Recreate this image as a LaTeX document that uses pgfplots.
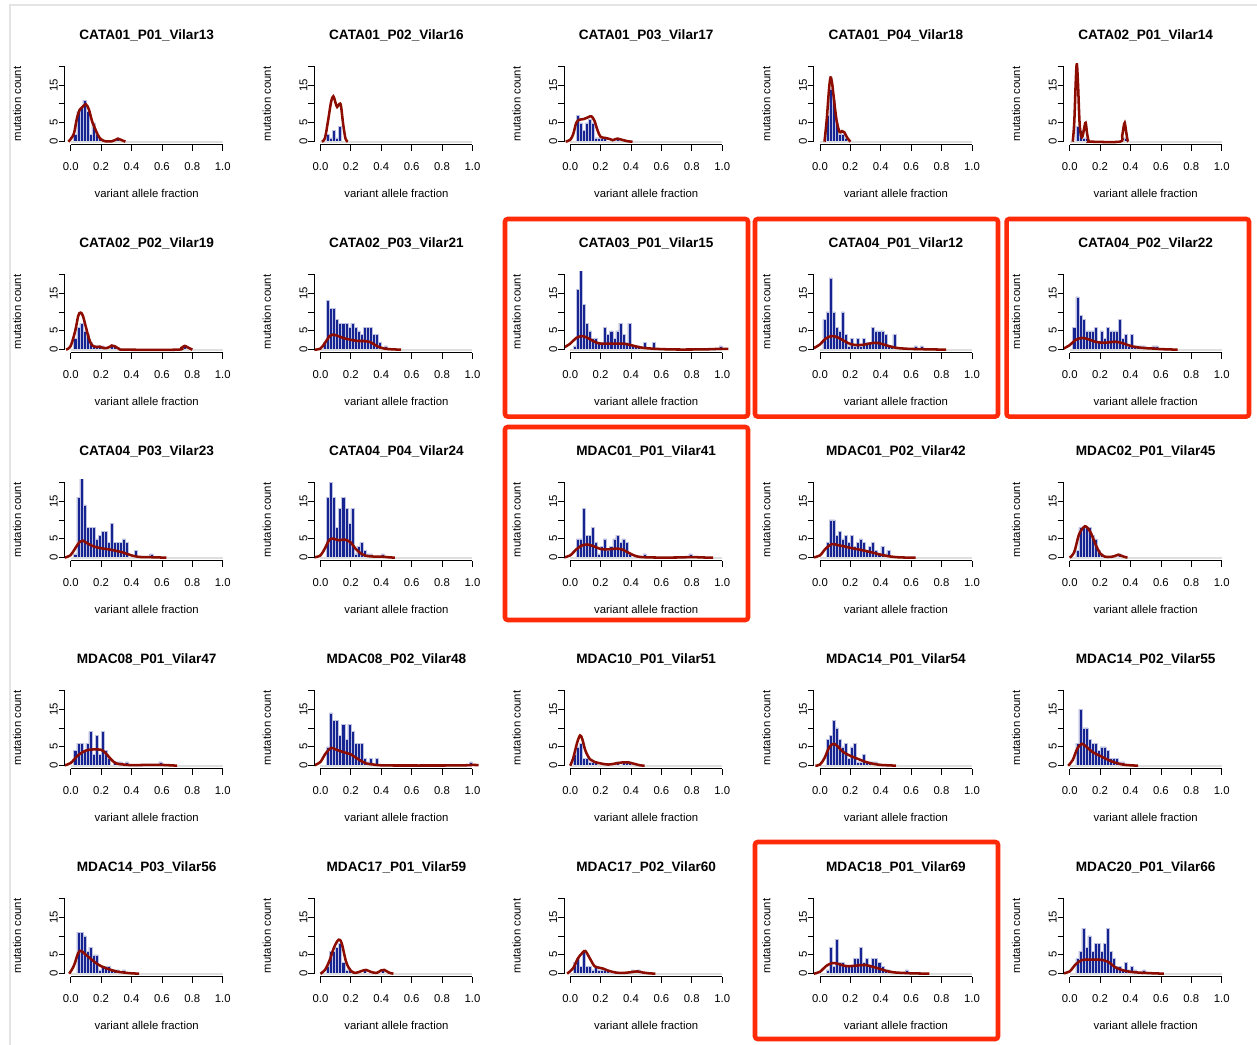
\documentclass[border=0pt]{standalone}
\usepackage{fontspec}
\setmainfont{Liberation Sans}
\usepackage{pgfplots}
\pgfplotsset{compat=1.18}

\definecolor{barblue}{RGB}{22,36,145}
\definecolor{baredge}{RGB}{190,194,224}
\definecolor{kdered}{RGB}{140,12,0}
\definecolor{hilite}{RGB}{255,42,8}
\definecolor{framegray}{RGB}{228,228,228}

\pgfplotsset{
  vaf/.style={
    scale only axis, width=123.15pt, height=61.2pt,
    xmin=-0.04, xmax=1.04, ymin=-0.8, ymax=20.8,
    axis x line*=bottom, axis y line*=left,
    axis line style={draw=none},
    clip mode=individual,
    tick align=outside, major tick length=4.5pt,
    tick style={black, line width=0.6pt},
    xtick={0,0.2,0.4,0.6,0.8,1}, xticklabels={0.0,0.2,0.4,0.6,0.8,1.0},
    ytick={0,5,10,15,20}, yticklabels={0,5,,15,},
    tick label style={font=\fontsize{8.5}{10}\selectfont},
    yticklabel style={rotate=90, anchor=south, inner sep=0.5pt},
    xticklabel style={anchor=north, inner sep=1pt, yshift=-7.5pt},
    xlabel={variant allele fraction}, ylabel={mutation count},
    label style={font=\fontsize{8.5}{10}\selectfont},
    xlabel style={at={(axis description cs:0.5,-0.592)}, anchor=center},
    ylabel style={at={(axis description cs:-0.29,0.5)}, anchor=center},
  },
  bars/.style={ybar, bar width=0.02, fill=barblue, draw=baredge, line width=0.35pt},
  vafcurve/.style={color=kdered, line width=1.9pt, smooth, tension=0.55, no marks},
}

% #1 column, #2 row, #3 title, #4 histogram counts, #5 density curve
\newcommand{\panel}[5]{%
  \pgfmathsetmacro{\px}{(64.6+249.75*#1)*0.75}%
  \pgfmathsetmacro{\py}{-(144.7+208*#2)*0.75}%
  \begin{axis}[vaf, at={(\px pt,\py pt)}, anchor=south west]
    \addplot[bars] coordinates {#4};
    \addplot[gray!25, line width=1.5pt, no marks] coordinates {(0,0) (1,0)};
    \addplot[vafcurve] coordinates {#5};
    \draw[line width=0.6pt] (axis cs:0,-0.8) -- (axis cs:1,-0.8);
    \draw[line width=0.6pt] (axis cs:-0.04,0) -- (axis cs:-0.04,20);
    \node[font=\bfseries\fontsize{10.2}{12}\selectfont, anchor=center]
      at (axis description cs:0.5,1.344) {#3};
  \end{axis}}

\begin{document}
\begin{tikzpicture}
\useasboundingbox (0,0) rectangle (942.75pt,-783.75pt);
\fill[white] (0,0) rectangle (942.75pt,-783.75pt);
\draw[framegray, line width=1.8pt] (7.5pt,-3.75pt) rectangle (960pt,-800pt);

% row 1
\panel{0}{0}{CATA01\_P01\_Vilar13}
  {(0.03,2) (0.05,8) (0.07,9) (0.09,11) (0.11,8) (0.13,2) (0.15,5) (0.17,2) (0.19,1) (0.31,1)}
  {(-0.015,0) (0.02,2) (0.04,6) (0.06,8.5) (0.08,9.3) (0.1,9.9) (0.12,8.5) (0.14,5.5) (0.16,3.5) (0.18,1.7) (0.2,0.6) (0.23,0.1) (0.27,0.1) (0.29,0.4) (0.31,0.8) (0.33,0.5) (0.36,0)}
\panel{1}{0}{CATA01\_P02\_Vilar16}
  {(0.05,2) (0.07,1) (0.09,3) (0.11,1) (0.13,4)}
  {(0.01,0) (0.03,1) (0.05,5.5) (0.07,10.5) (0.085,12) (0.1,10.2) (0.11,9.2) (0.125,10) (0.135,9.5) (0.15,4.5) (0.165,0.8) (0.18,0)}
\panel{2}{0}{CATA01\_P03\_Vilar17}
  {(0.05,7) (0.07,5) (0.09,3) (0.11,5) (0.13,6) (0.15,5) (0.17,1) (0.19,1) (0.21,1) (0.23,1) (0.31,1)}
  {(-0.03,0) (0.0,0.5) (0.02,2) (0.04,5) (0.06,5.8) (0.09,6) (0.12,6.5) (0.14,6.7) (0.16,5.5) (0.18,3) (0.2,1.3) (0.23,1) (0.26,0.7) (0.28,0.4) (0.31,0.8) (0.34,0.5) (0.38,0.1) (0.41,0)}
\panel{3}{0}{CATA01\_P04\_Vilar18}
  {(0.05,7) (0.07,14) (0.09,11) (0.11,5) (0.13,2) (0.15,2) (0.17,1)}
  {(0.03,0) (0.045,6) (0.06,14) (0.07,17) (0.08,15.5) (0.09,12) (0.11,5.5) (0.13,2.5) (0.145,2.8) (0.16,2.5) (0.18,1) (0.2,0)}
\panel{4}{0}{CATA02\_P01\_Vilar14}
  {(0.05,4) (0.07,3) (0.09,1) (0.11,1) (0.37,1)}
  {(0.02,0) (0.03,5) (0.04,16) (0.047,20.6) (0.055,15) (0.065,5) (0.075,1.5) (0.085,1.5) (0.095,3.5) (0.105,5) (0.115,2) (0.125,0.2) (0.14,0) (0.33,0) (0.345,1.5) (0.355,4) (0.362,5) (0.37,3) (0.38,0.5) (0.385,0)}

% row 2
\panel{0}{1}{CATA02\_P02\_Vilar19}
  {(0.03,3) (0.05,6) (0.07,7) (0.09,5) (0.11,4) (0.13,2) (0.15,1) (0.17,1) (0.19,1) (0.21,1) (0.27,1) (0.29,1) (0.75,1)}
  {(-0.03,0) (0.0,1) (0.03,5) (0.05,9) (0.065,9.8) (0.08,9) (0.1,6) (0.12,3) (0.14,1.2) (0.17,0.7) (0.19,0.8) (0.22,0.4) (0.25,0.6) (0.27,1.1) (0.29,0.9) (0.32,0.2) (0.36,0) (0.7,0) (0.73,0.5) (0.75,1) (0.77,0.6) (0.8,0)}
\panel{1}{1}{CATA02\_P03\_Vilar21}
  {(0.03,2) (0.05,13) (0.07,11) (0.09,11) (0.11,8) (0.13,7) (0.15,7) (0.17,7) (0.19,6) (0.21,7) (0.23,6) (0.25,5) (0.27,4) (0.29,6) (0.31,6) (0.33,6) (0.35,4) (0.37,4) (0.39,2) (0.43,1)}
  {(-0.04,0) (0.0,0.3) (0.03,1.8) (0.06,3.6) (0.08,4) (0.11,3.7) (0.15,3.1) (0.2,2.6) (0.25,2.3) (0.29,2.3) (0.32,2.1) (0.35,1.5) (0.38,0.8) (0.42,0.3) (0.47,0.1) (0.53,0)}
\panel{2}{1}{CATA03\_P01\_Vilar15}
  {(0.03,1) (0.05,16) (0.07,22) (0.09,12) (0.11,7) (0.13,5) (0.15,3) (0.17,3) (0.19,2) (0.21,2) (0.23,6) (0.25,4) (0.27,5) (0.29,3) (0.31,5) (0.33,7) (0.35,4) (0.37,2) (0.39,7) (0.41,1) (0.43,1) (0.45,1) (0.49,2) (0.55,2) (0.99,1)}
  {(-0.04,0.6) (0.0,1.6) (0.04,3.1) (0.08,3.6) (0.12,3.0) (0.16,2.1) (0.2,1.6) (0.25,1.6) (0.3,1.6) (0.35,1.6) (0.4,1.2) (0.45,0.7) (0.5,0.4) (0.6,0.15) (0.7,0.05) (0.8,0.05) (0.9,0.1) (0.97,0.2) (1.04,0.2)}
\panel{3}{1}{CATA04\_P01\_Vilar12}
  {(0.03,8) (0.05,10) (0.07,19) (0.09,10) (0.11,6) (0.13,5) (0.15,10) (0.17,4) (0.19,1) (0.21,3) (0.23,1) (0.25,3) (0.27,1) (0.29,3) (0.31,2) (0.33,2) (0.35,6) (0.37,5) (0.39,5) (0.41,5) (0.43,4) (0.45,1) (0.47,1) (0.49,4) (0.63,1) (0.67,1)}
  {(-0.04,0.4) (0.0,1.4) (0.04,3) (0.08,3.6) (0.12,3.2) (0.16,2.3) (0.2,1.5) (0.25,1.2) (0.3,1.4) (0.35,1.8) (0.39,1.7) (0.45,1.0) (0.5,0.5) (0.55,0.3) (0.6,0.2) (0.65,0.15) (0.7,0.1) (0.83,0)}
\panel{4}{1}{CATA04\_P02\_Vilar22}
  {(0.03,6) (0.05,14) (0.07,9) (0.09,8) (0.11,5) (0.13,5) (0.15,5) (0.17,6) (0.19,2) (0.21,5) (0.23,3) (0.25,6) (0.27,5) (0.29,5) (0.31,5) (0.33,8) (0.35,3) (0.37,4) (0.39,1) (0.41,4) (0.43,1) (0.45,1) (0.47,1) (0.49,1) (0.55,1) (0.57,1)}
  {(-0.04,0.3) (0.0,1.2) (0.04,2.6) (0.08,3.1) (0.12,2.8) (0.16,2.2) (0.2,1.9) (0.25,1.9) (0.3,2.1) (0.35,1.7) (0.4,1.0) (0.45,0.6) (0.5,0.4) (0.55,0.3) (0.6,0.15) (0.71,0)}

% row 3
\panel{0}{2}{CATA04\_P03\_Vilar23}
  {(0.03,1) (0.05,16) (0.07,22) (0.09,14) (0.11,8) (0.13,8) (0.15,8) (0.17,5) (0.19,6) (0.21,7) (0.23,7) (0.25,4) (0.27,9) (0.29,4) (0.31,4) (0.33,4) (0.35,5) (0.37,4) (0.43,2) (0.53,1)}
  {(-0.04,0) (0.0,0.7) (0.03,2.5) (0.06,4.2) (0.08,4.5) (0.11,3.8) (0.15,3.0) (0.2,2.5) (0.25,2.2) (0.3,1.8) (0.35,1.3) (0.4,0.6) (0.45,0.2) (0.5,0.15) (0.55,0.1) (0.63,0)}
\panel{1}{2}{CATA04\_P04\_Vilar24}
  {(0.05,16) (0.07,20) (0.09,16) (0.11,8) (0.13,13) (0.15,16) (0.17,13) (0.19,9) (0.21,13) (0.23,1) (0.25,3) (0.27,4) (0.29,2) (0.31,1) (0.33,1) (0.41,1)}
  {(-0.04,0.1) (0.0,0.6) (0.03,2.5) (0.06,4.8) (0.09,5) (0.12,4.6) (0.16,4.8) (0.2,4) (0.23,2.4) (0.27,1) (0.3,0.5) (0.35,0.3) (0.4,0.3) (0.45,0.1) (0.49,0)}
\panel{2}{2}{MDAC01\_P01\_Vilar41}
  {(0.05,5) (0.07,5) (0.09,13) (0.11,6) (0.13,6) (0.15,8) (0.17,4) (0.19,1) (0.21,3) (0.23,5) (0.25,2) (0.27,3) (0.29,5) (0.31,6) (0.33,4) (0.35,5) (0.37,4) (0.39,1) (0.49,1) (0.79,1)}
  {(-0.04,0.1) (0.0,0.6) (0.04,2.2) (0.08,3.3) (0.11,3.5) (0.15,3.1) (0.2,2.3) (0.25,2.2) (0.3,2.4) (0.34,2.2) (0.38,1.4) (0.42,0.6) (0.46,0.2) (0.55,0.05) (0.7,0.05) (0.8,0.15) (0.88,0.05) (0.94,0)}
\panel{3}{2}{MDAC01\_P02\_Vilar42}
  {(0.05,4) (0.07,10) (0.09,10) (0.11,6) (0.13,7) (0.15,5) (0.17,6) (0.19,4) (0.21,6) (0.23,3) (0.25,4) (0.27,5) (0.29,4) (0.31,2) (0.33,3) (0.35,4) (0.37,2) (0.39,1) (0.41,3) (0.43,1) (0.45,2)}
  {(-0.04,0.1) (0.0,0.6) (0.04,2.5) (0.08,3.6) (0.12,3.3) (0.16,3.0) (0.2,2.6) (0.25,2.2) (0.3,1.8) (0.35,1.3) (0.4,0.8) (0.45,0.4) (0.5,0.15) (0.55,0.05) (0.63,0)}
\panel{4}{2}{MDAC02\_P01\_Vilar45}
  {(0.05,2) (0.07,8) (0.09,8) (0.11,8) (0.13,8) (0.15,6) (0.17,5) (0.19,2) (0.21,1) (0.33,1)}
  {(0.0,0) (0.03,1.5) (0.06,6) (0.09,8) (0.11,8.2) (0.14,6.5) (0.17,3.5) (0.2,1.2) (0.23,0.3) (0.27,0.2) (0.3,0.5) (0.32,0.8) (0.34,0.5) (0.37,0.1) (0.38,0)}

% row 4
\panel{0}{3}{MDAC08\_P01\_Vilar47}
  {(0.03,4) (0.05,6) (0.07,6) (0.09,4) (0.11,6) (0.13,9) (0.15,3) (0.17,8) (0.19,3) (0.21,9) (0.23,4) (0.25,2) (0.29,1) (0.31,1) (0.33,1) (0.37,1) (0.59,1)}
  {(-0.04,0.1) (0.0,0.7) (0.05,2.8) (0.1,4.0) (0.15,4.3) (0.2,4.2) (0.23,3.3) (0.27,1.5) (0.3,0.6) (0.35,0.3) (0.4,0.15) (0.5,0.2) (0.6,0.2) (0.7,0)}
\panel{1}{3}{MDAC08\_P02\_Vilar48}
  {(0.05,5) (0.07,14) (0.09,12) (0.11,12) (0.13,8) (0.15,11) (0.17,7) (0.19,11) (0.21,9) (0.23,6) (0.25,6) (0.27,6) (0.29,2) (0.31,1) (0.33,2) (0.37,2) (0.99,1)}
  {(-0.04,0.1) (0.0,1) (0.03,3) (0.07,4.7) (0.1,4.3) (0.15,3.6) (0.2,3.0) (0.23,2.2) (0.27,1.2) (0.3,0.6) (0.35,0.3) (0.4,0.1) (0.5,0.05) (0.8,0.05) (0.95,0.1) (1.0,0.2) (1.04,0.15)}
\panel{2}{3}{MDAC10\_P01\_Vilar51}
  {(0.03,3) (0.05,5) (0.07,6) (0.09,2) (0.11,2) (0.13,1) (0.15,1) (0.17,1) (0.31,1) (0.35,1) (0.37,1) (0.39,1)}
  {(0.0,0) (0.02,2) (0.045,6) (0.065,8) (0.08,7) (0.1,4) (0.13,1.7) (0.16,1) (0.2,0.6) (0.25,0.3) (0.3,0.6) (0.35,0.9) (0.38,0.9) (0.42,0.5) (0.46,0.1) (0.49,0)}
\panel{3}{3}{MDAC14\_P01\_Vilar54}
  {(0.05,7) (0.07,8) (0.09,12) (0.11,10) (0.13,7) (0.15,5) (0.17,6) (0.19,2) (0.21,5) (0.23,6) (0.25,1) (0.27,1) (0.29,3) (0.31,1) (0.33,1) (0.35,1) (0.37,1)}
  {(-0.03,0) (0.0,0.3) (0.03,2) (0.06,4.8) (0.09,5.8) (0.12,5) (0.15,3.7) (0.2,2.6) (0.25,1.8) (0.3,1.0) (0.35,0.5) (0.4,0.2) (0.45,0.1) (0.5,0)}
\panel{4}{3}{MDAC14\_P02\_Vilar55}
  {(0.05,6) (0.07,15) (0.09,10) (0.11,10) (0.13,7) (0.15,6) (0.17,6) (0.19,4) (0.21,5) (0.23,5) (0.25,4) (0.27,2) (0.29,2) (0.31,2) (0.33,1) (0.35,1)}
  {(-0.01,0) (0.02,1.5) (0.05,4.5) (0.08,5.8) (0.11,5) (0.15,3.6) (0.2,2.6) (0.25,1.6) (0.3,0.8) (0.35,0.3) (0.4,0.1) (0.45,0)}

% row 5
\panel{0}{4}{MDAC14\_P03\_Vilar56}
  {(0.05,11) (0.07,11) (0.09,10) (0.11,6) (0.13,7) (0.15,5) (0.17,5) (0.19,1) (0.21,2) (0.23,2) (0.25,2) (0.27,1) (0.29,1) (0.31,1) (0.35,1)}
  {(-0.01,0) (0.02,2) (0.05,5.5) (0.07,6) (0.1,5) (0.13,4) (0.16,3) (0.2,2) (0.25,1.2) (0.3,0.6) (0.35,0.3) (0.4,0.1) (0.45,0)}
\panel{1}{4}{MDAC17\_P01\_Vilar59}
  {(0.05,2) (0.07,6) (0.09,6) (0.11,7) (0.13,8) (0.15,3) (0.17,1) (0.19,1) (0.29,1) (0.41,1)}
  {(0.0,0) (0.03,1) (0.06,3.5) (0.09,7) (0.12,9) (0.14,8) (0.17,3) (0.2,0.8) (0.23,0.2) (0.27,0.7) (0.3,1) (0.33,0.5) (0.37,0.2) (0.4,0.9) (0.42,1) (0.45,0.3) (0.48,0)}
\panel{2}{4}{MDAC17\_P02\_Vilar60}
  {(0.03,3) (0.05,4) (0.07,2) (0.09,6) (0.11,2) (0.13,2) (0.15,1) (0.17,2) (0.19,1) (0.21,1) (0.23,1) (0.25,1) (0.41,1) (0.45,1)}
  {(-0.02,0) (0.02,1.5) (0.05,4) (0.08,5.5) (0.1,6) (0.13,4) (0.16,2) (0.19,1.6) (0.22,1.3) (0.25,0.8) (0.3,0.3) (0.35,0.2) (0.4,0.4) (0.44,0.6) (0.48,0.3) (0.52,0.1) (0.56,0)}
\panel{3}{4}{MDAC18\_P01\_Vilar69}
  {(0.05,1) (0.07,7) (0.09,2) (0.11,9) (0.13,3) (0.15,3) (0.17,2) (0.19,2) (0.21,2) (0.23,4) (0.25,4) (0.27,7) (0.29,3) (0.31,4) (0.33,2) (0.35,4) (0.37,4) (0.39,3) (0.41,2) (0.43,1) (0.45,1) (0.57,1)}
  {(-0.04,0) (0.0,0.5) (0.04,2) (0.08,2.8) (0.12,2.6) (0.16,2.1) (0.2,2.0) (0.25,2.2) (0.3,2.3) (0.35,1.8) (0.4,1.2) (0.45,0.6) (0.5,0.3) (0.55,0.2) (0.6,0.1) (0.72,0)}
\panel{4}{4}{MDAC20\_P01\_Vilar66}
  {(0.05,4) (0.07,6) (0.09,12) (0.11,7) (0.13,10) (0.15,6) (0.17,8) (0.19,8) (0.21,6) (0.23,8) (0.25,12) (0.27,6) (0.29,4) (0.31,2) (0.33,2) (0.35,1) (0.37,3) (0.39,1) (0.41,2) (0.43,1) (0.49,1)}
  {(-0.04,0.1) (0.0,0.6) (0.04,2.5) (0.08,3.6) (0.12,3.7) (0.16,3.7) (0.2,3.7) (0.25,3.2) (0.3,1.7) (0.35,0.9) (0.4,0.5) (0.45,0.3) (0.5,0.2) (0.55,0.1) (0.62,0)}

% highlighted panels
\begin{scope}[hilite, line width=3.4pt, rounded corners=2pt]
\draw (378.75pt,-164.25pt) rectangle (561pt,-312.4pt);
\draw (566.25pt,-164.25pt) rectangle (748.5pt,-312.4pt);
\draw (754.9pt,-164.25pt) rectangle (936.75pt,-312.4pt);
\draw (378.75pt,-320.25pt) rectangle (561pt,-465pt);
\draw (566.25pt,-631.5pt) rectangle (748.5pt,-779.25pt);
\end{scope}
\end{tikzpicture}
\end{document}
